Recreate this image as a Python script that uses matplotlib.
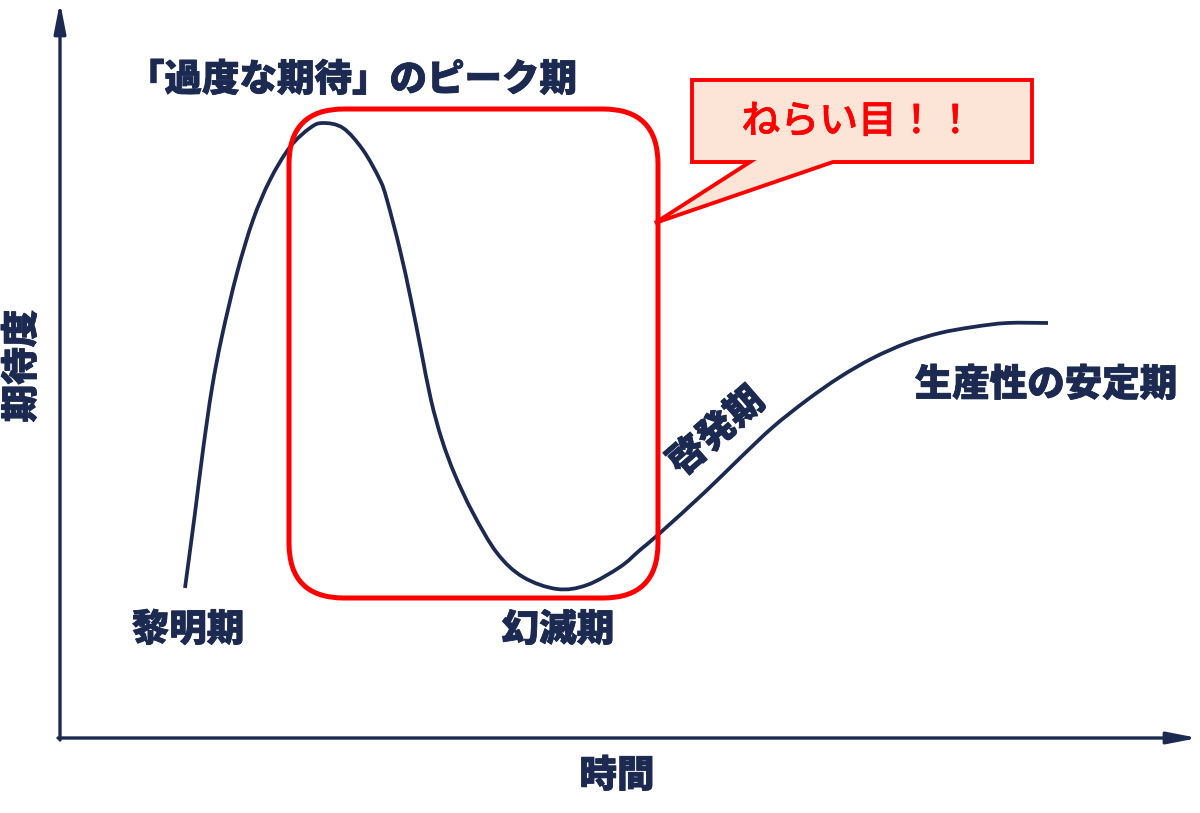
import matplotlib
matplotlib.use("Agg")
import matplotlib.pyplot as plt
import matplotlib.patheffects as pe
from matplotlib.path import Path
from matplotlib.patches import FancyBboxPatch, Polygon, FancyArrowPatch, PathPatch

plt.rcParams['font.family'] = ['Noto Sans CJK JP', 'DejaVu Sans']

# hype curve (pixel space, y grows downward)
curve_x = [185, 195, 203, 212, 222, 237, 253, 270, 290, 310, 323, 343, 363, 380, 387,
           400, 411, 421, 431, 442, 455, 473, 497, 523, 557, 587, 620, 640, 660, 705,
           740, 773, 807, 840, 873, 907, 940, 973, 1007, 1048]
curve_y = [588, 513, 450, 388, 336, 273, 220, 180, 147, 128, 123, 128, 150, 180, 200,
           250, 300, 350, 400, 440, 475, 513, 553, 577, 589, 585, 567, 550, 533, 492,
           458, 427, 400, 377, 358, 343, 333, 327, 323, 323]

# labels: text, x, y, rotation
labels = [
    ("「過度な期待」のピーク期", 352, 80, 0),
    ("黎明期", 188, 630, 0),
    ("幻滅期", 558, 630, 0),
    ("啓発期", 717, 432, 41),
    ("生産性の安定期", 1046, 385, 0),
]
y_label = "期待度"
x_label = "時間"
callout_text = "ねらい目！！"

navy = '#1c2a52'
red = '#ff0000'


def smooth_path(xs, ys):
    # Catmull-Rom through the read points, drawn as cubic bezier segments
    pts = list(zip(xs, ys))
    n = len(pts)
    verts = [pts[0]]
    codes = [Path.MOVETO]
    for i in range(n - 1):
        p0 = pts[i - 1] if i > 0 else pts[i]
        p1 = pts[i]
        p2 = pts[i + 1]
        p3 = pts[i + 2] if i + 2 < n else pts[i + 1]
        c1 = (p1[0] + (p2[0] - p0[0]) / 6, p1[1] + (p2[1] - p0[1]) / 6)
        c2 = (p2[0] - (p3[0] - p1[0]) / 6, p2[1] - (p3[1] - p1[1]) / 6)
        verts += [c1, c2, p2]
        codes += [Path.CURVE4] * 3
    return Path(verts, codes)


fig = plt.figure(figsize=(12, 8.13), dpi=100)
ax = fig.add_axes([0, 0, 1, 1])
ax.set_xlim(0, 1200)
ax.set_ylim(813, 0)
ax.axis('off')

# axes with arrows
style = '-|>,head_length=1.8,head_width=0.35'
ax.add_patch(FancyArrowPatch((60, 740), (60, 2), arrowstyle=style, mutation_scale=10,
                             color=navy, lw=2.4, shrinkA=0, shrinkB=0))
ax.add_patch(FancyArrowPatch((58, 738), (1198, 738), arrowstyle=style, mutation_scale=10,
                             color=navy, lw=2.4, shrinkA=0, shrinkB=0))

# the curve
ax.add_patch(PathPatch(smooth_path(curve_x, curve_y), fill=False, ec=navy, lw=2.7,
                       capstyle='butt', zorder=3))

# red rounded frame
ax.add_patch(FancyBboxPatch((289, 109), 369, 489, boxstyle='round,pad=0,rounding_size=55',
                            fill=False, ec=red, lw=3.6, zorder=4))

# speech bubble
bubble = [(692, 80), (1032, 80), (1032, 162), (833, 162), (655, 223), (750, 162), (692, 162)]
ax.add_patch(Polygon(bubble, closed=True, fc='#fce4d6', ec=red, lw=2.8, joinstyle='miter', zorder=5))
ax.text(858, 122, callout_text, color=red, fontsize=28, fontweight='medium',
        ha='center', va='center', zorder=6,
        path_effects=[pe.withStroke(linewidth=0.4, foreground=red)])

heavy = [pe.withStroke(linewidth=0.6, foreground=navy)]
for txt, x, y, rot in labels:
    ax.text(x, y, txt, color=navy, fontsize=27, fontweight='black',
            ha='center', va='center', rotation=rot, rotation_mode='anchor',
            path_effects=heavy)

ax.text(22, 366, y_label, color=navy, fontsize=27, fontweight='black',
        ha='center', va='center', rotation=90, path_effects=heavy)
ax.text(617, 776, x_label, color=navy, fontsize=27, fontweight='black',
        ha='center', va='center', path_effects=heavy)

fig.savefig('out.png', dpi=100)
